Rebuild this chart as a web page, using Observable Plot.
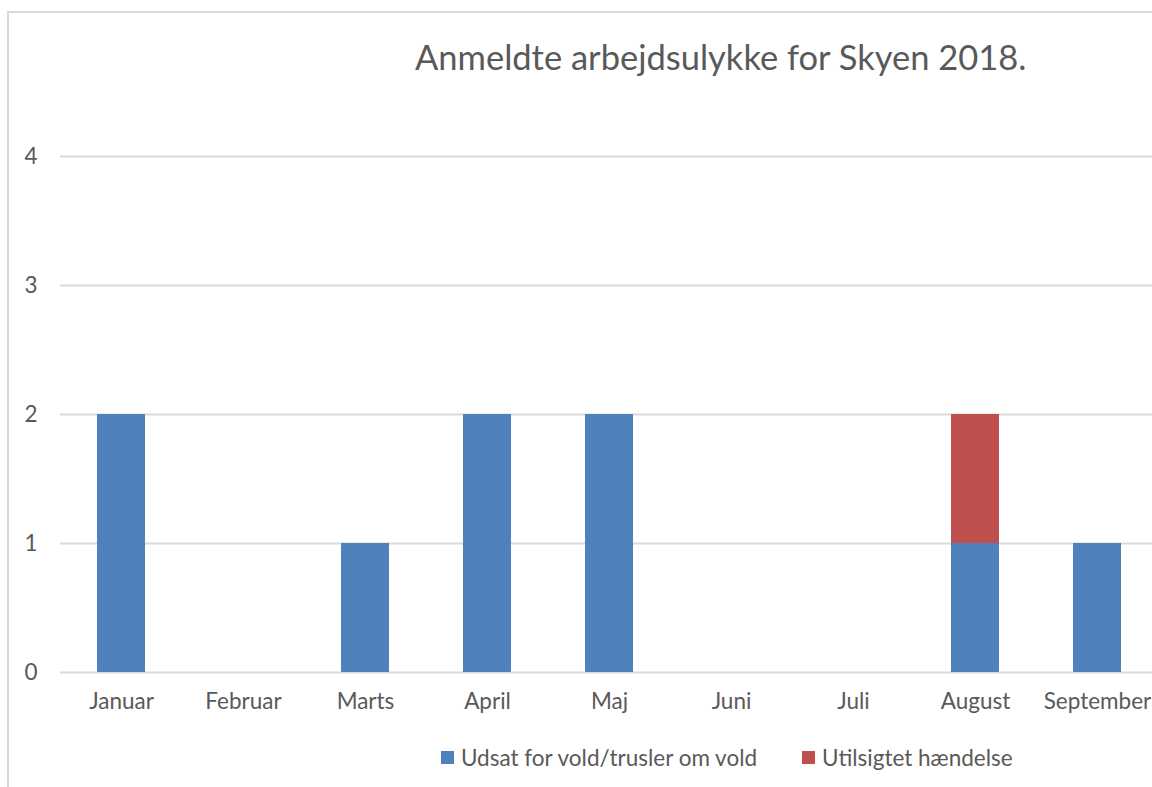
<!DOCTYPE html>
<html>
<head>
<meta charset="utf-8">
<script src="https://cdn.jsdelivr.net/npm/d3@7"></script>
<script src="https://cdn.jsdelivr.net/npm/@observablehq/plot@0.6"></script>
<style>
  html, body { margin: 0; padding: 0; background: #fff; }
  #wrap { position: relative; width: 1152px; height: 787px; overflow: hidden; font-family: Lato, "Open Sans", sans-serif; color: #595959; }
  #frame { position: absolute; left: 7px; top: 11px; width: 1300px; height: 900px; border: 2px solid #d9d9d9; box-sizing: border-box; }
  #title { position: absolute; left: 415px; top: 36px; font-size: 34.5px; white-space: nowrap; }
  #chart { position: absolute; left: 0; top: 0; width: 1158px; }
  #legend { position: absolute; top: 744px; left: 441px; font-size: 22.5px; white-space: nowrap; display: flex; align-items: center; }
  .sw { display: inline-block; width: 13px; height: 13px; margin-right: 7px; }
  .item { display: flex; align-items: center; }
</style>
</head>
<body>
<div id="wrap">
  <div id="frame"></div>
  <div id="title"></div>
  <div id="chart"></div>
  <div id="legend"></div>
</div>
<script>
const title = "Anmeldte arbejdsulykke for Skyen 2018.";
const months = ["Januar","Februar","Marts","April","Maj","Juni","Juli","August","September"];
const seriesNames = ["Udsat for vold/trusler om vold","Utilsigtet hændelse"];
const seriesColors = ["#4F81BD","#C0504D"];
const vold = [2,0,1,2,2,0,0,1,1];
const utilsigtet = [0,0,0,0,0,0,0,1,0];
const yTicks = [0,1,2,3,4];

const rows = [];
months.forEach((m,i) => rows.push({month: m, series: seriesNames[0], value: vold[i]}));
months.forEach((m,i) => rows.push({month: m, series: seriesNames[1], value: utilsigtet[i]}));

document.getElementById("title").textContent = title;

const chart = Plot.plot({
  width: 1158,
  height: 787,
  marginLeft: 60,
  marginRight: 0,
  marginTop: 156,
  marginBottom: 115,
  style: { fontFamily: "Lato, 'Open Sans', sans-serif", fontSize: "22.5px", color: "#595959", background: "transparent", overflow: "visible", maxWidth: "none" },
  x: { domain: months, padding: 0, label: null },
  y: { domain: [0, 4], label: null },
  color: { domain: seriesNames, range: seriesColors },
  marks: [
    Plot.gridY(yTicks, { stroke: "#d9d9d9", strokeOpacity: 1, strokeWidth: 2 }),
    Plot.barY(rows, { x: "month", y: "value", fill: "series", insetLeft: 37, insetRight: 37 }),
    Plot.axisY({ ticks: yTicks, tickSize: 0, tickPadding: 23, tickFormat: d => String(d), label: null, fill: "#595959" }),
    Plot.axisX({ tickSize: 0, tickPadding: 21, label: null, fill: "#595959" })
  ]
});
chart.style.maxWidth = "none";
chart.style.width = "1158px";
chart.style.height = "787px";
document.getElementById("chart").appendChild(chart);

const legend = document.getElementById("legend");
seriesNames.forEach((name, i) => {
  const it = document.createElement("span");
  it.className = "item";
  if (i > 0) it.style.marginLeft = "45px";
  const sw = document.createElement("span");
  sw.className = "sw";
  sw.style.background = seriesColors[i];
  it.appendChild(sw);
  const t = document.createElement("span");
  t.textContent = name;
  it.appendChild(t);
  legend.appendChild(it);
});
</script>
</body>
</html>
